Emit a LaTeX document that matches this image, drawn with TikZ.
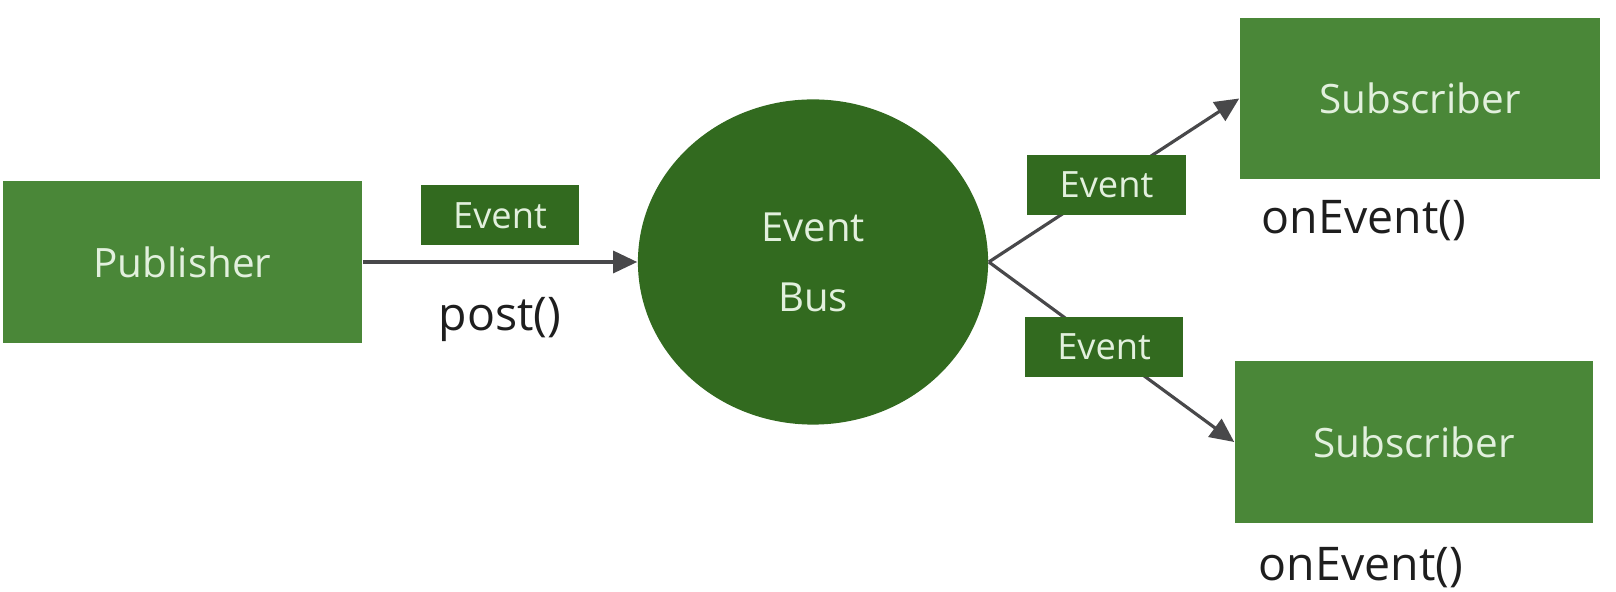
\documentclass[tikz,border=0pt]{standalone}
\usepackage{fontspec}
\setmainfont{Open Sans}
\usetikzlibrary{positioning,arrows.meta,shapes.geometric}
\definecolor{boxgreen}{RGB}{74,135,56}
\definecolor{busgreen}{RGB}{50,106,31}
\definecolor{paletext}{RGB}{226,240,221}
\definecolor{linegray}{RGB}{72,72,74}
\definecolor{calltext}{RGB}{30,30,30}

\begin{document}
\begin{tikzpicture}[
        x=0.01cm, y=-0.01cm,
        >={Triangle[length=2.4mm,width=2.2mm]},
        greenbox/.style={
            fill=boxgreen,
            text=paletext,
            minimum width=3.59cm,
            minimum height=1.62cm,
            inner sep=0pt,
            font=\fontsize{11.5}{14}\selectfont
        },
        eventbox/.style={
            fill=busgreen,
            text=paletext,
            minimum width=1.58cm,
            minimum height=0.6cm,
            inner sep=0pt,
            font=\fontsize{10.3}{12}\selectfont
        },
        busnode/.style={
            ellipse,
            fill=busgreen,
            text=paletext,
            minimum width=3.5cm,
            minimum height=3.25cm,
            inner sep=0pt,
            align=center,
            font=\fontsize{11.4}{19.9}\selectfont
        },
        calllabel/.style={
            text=calltext,
            inner sep=0pt,
            font=\fontsize{13.2}{15}\selectfont
        },
        arrow/.style={
            ->,
            draw=linegray,
            line width=0.9pt
        }
    ]
    \useasboundingbox (0,0) rectangle (1616,592);

    % Knoten
    \node[greenbox] (publisher) at (182.5,262) {Publisher};
    \node[busnode] (bus) at (813,262) {Event\\Bus};
    \node[greenbox, minimum width=3.6cm, minimum height=1.61cm] (sub1) at (1420,98.5) {Subscriber};
    \node[greenbox, minimum width=3.58cm] (sub2) at (1414,442) {Subscriber};

    % Methodenaufrufe
    \node[calllabel, below right=0.2cm and 0.22cm of sub1.south west] (call1) {onEvent()};
    \node[calllabel, below right=0.23cm and 0.24cm of sub2.south west] (call2) {onEvent()};

    % Pfeile mit Events
    \draw[arrow] (publisher.east) -- node[eventbox, above=0.15cm] (ev1) {Event}
        node[calllabel, below=0.34cm] (post) {post()} (bus.west);
    \draw[arrow] (bus.east) -- node[eventbox, pos=0.47] (ev2) {Event} (sub1.west);
    \draw[arrow] (bus.east) -- node[eventbox, pos=0.47] (ev3) {Event} (sub2.west);

\end{tikzpicture}
\end{document}
